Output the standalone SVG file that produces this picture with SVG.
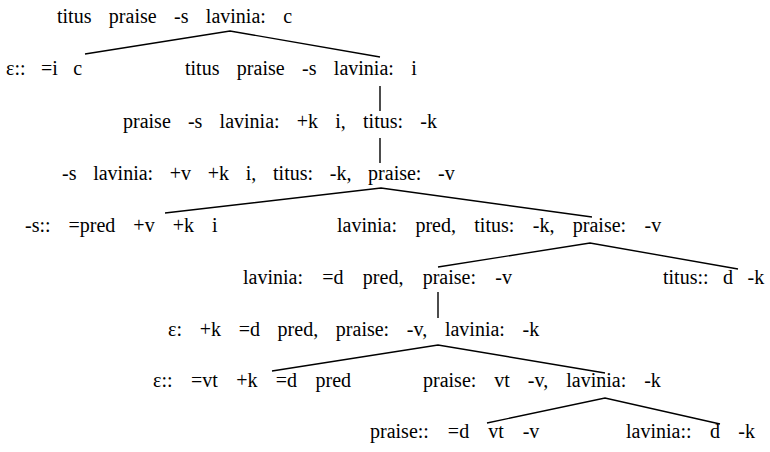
<svg xmlns="http://www.w3.org/2000/svg" width="770" height="452" viewBox="0 0 770 452">
<style>
text{font-family:'Liberation Serif','Times New Roman',Times,serif;font-size:20px;fill:#000;word-spacing:12.5px}
.c line,.c polyline{stroke:#000;stroke-width:1.4;fill:none}
</style>
<rect width="770" height="452" fill="#fff"/>
<g class="c" id="connectors">
<polyline points="85,54 230,31 380,57"/>
<line x1="380" y1="86" x2="380" y2="111"/>
<line x1="380" y1="138" x2="380" y2="163"/>
<polyline points="165,213 381,188 592,217"/>
<polyline points="438,267 590,243 738,269"/>
<line x1="438" y1="292" x2="438" y2="318"/>
<polyline points="272,371 438,345 605,373"/>
<polyline points="487,423 605,398 720,424"/>
</g>
<g id="n1"><text x="57" y="23" style="word-spacing:12.4px">titus praise -s lavinia: c</text></g>
<g id="n2"><text x="6" y="75" style="word-spacing:10.5px">ε:: =i c</text></g>
<g id="n3"><text x="185" y="75" style="word-spacing:12.4px">titus praise -s lavinia: i</text></g>
<g id="n4"><text x="123" y="128" style="word-spacing:12.2px">praise -s lavinia: +k i, titus: -k</text></g>
<g id="n5"><text x="62" y="180" style="word-spacing:11.7px">-s lavinia: +v +k i, titus: -k, praise: -v</text></g>
<g id="n6"><text x="25" y="232" style="word-spacing:13px">-s:: =pred +v +k i</text></g>
<g id="n7"><text x="337" y="232" style="word-spacing:13.4px">lavinia: pred, titus: -k, praise: -v</text></g>
<g id="n8"><text x="243" y="284" style="word-spacing:14.3px">lavinia: =d pred, praise: -v</text></g>
<g id="n9"><text x="663" y="284" style="word-spacing:9.5px">titus:: d -k</text></g>
<g id="n10"><text x="168" y="336" style="word-spacing:12.7px">ε: +k =d pred, praise: -v, lavinia: -k</text></g>
<g id="n11"><text x="153" y="387" style="word-spacing:13.4px">ε:: =vt +k =d pred</text></g>
<g id="n12"><text x="423" y="387" style="word-spacing:13px">praise: vt -v, lavinia: -k</text></g>
<g id="n13"><text x="370" y="438" style="word-spacing:14px">praise:: =d vt -v</text></g>
<g id="n14"><text x="626" y="438" style="word-spacing:13.4px">lavinia:: d -k</text></g>
</svg>
